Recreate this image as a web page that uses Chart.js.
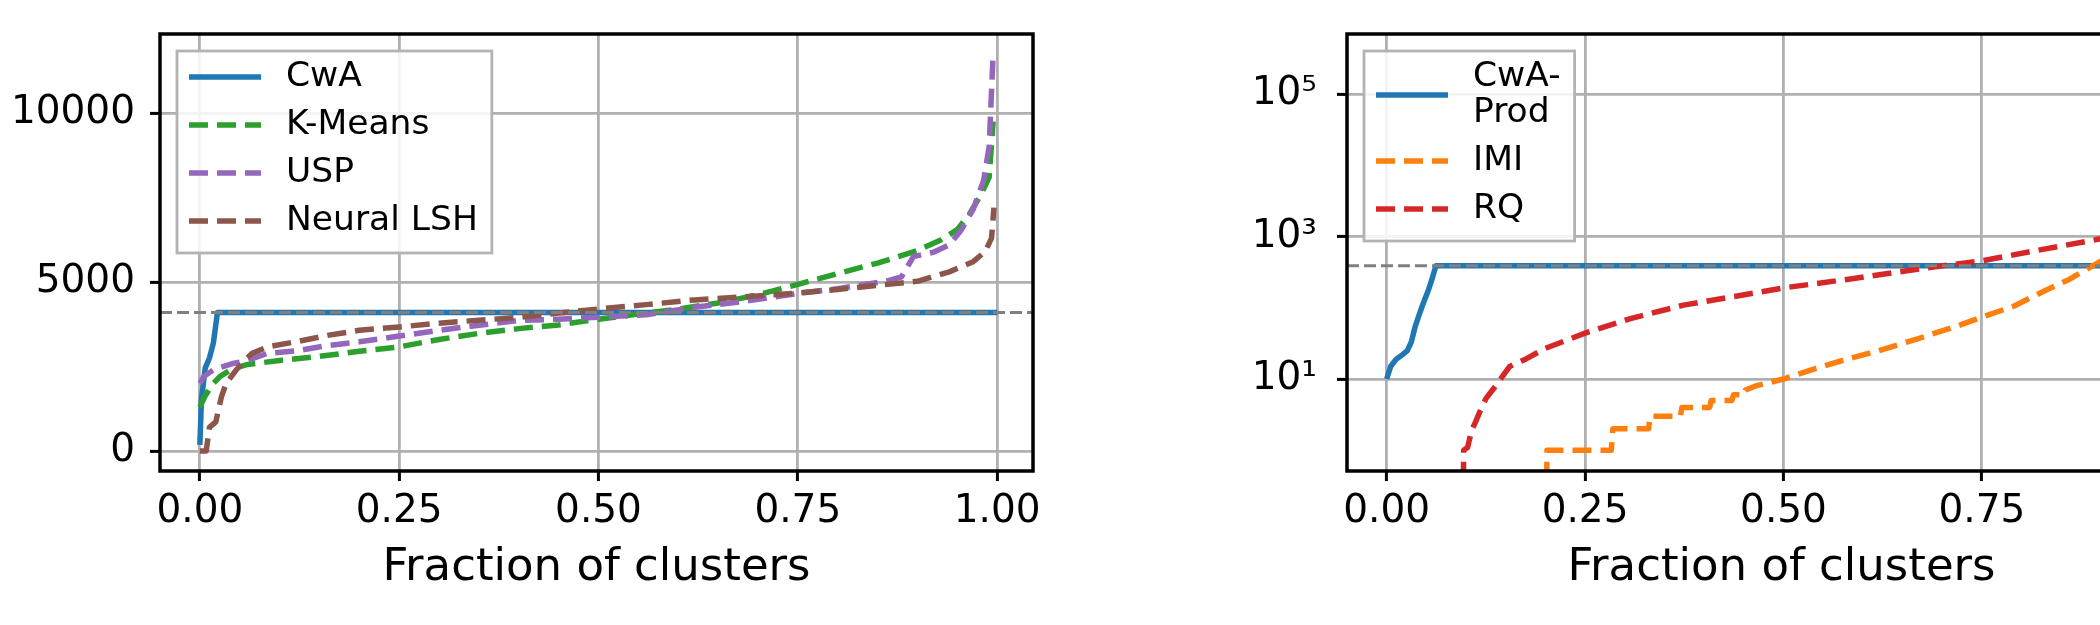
<!DOCTYPE html>
<html lang="en">
<head>
    <meta charset="utf-8">
    <title>Fraction of clusters</title>
    <style>
        html, body { margin: 0; padding: 0; background: #fff; overflow: hidden; }
        #wrap { position: relative; width: 2100px; height: 625px; overflow: hidden; }
        #leftChart { position: absolute; left: 0; top: 0; }
        #rightChart { position: absolute; left: 1200px; top: 0; }
    </style>
</head>
<body>
    <div id="wrap">
        <canvas id="leftChart" width="1100" height="625"></canvas>
        <canvas id="rightChart" width="1100" height="625"></canvas>
    </div>
    <script src="https://cdn.jsdelivr.net/npm/chart.js"></script>
    <script>
        // ---- left panel: cluster sizes, linear axis ----
        const cwaX = [0, 0.002, 0.0067, 0.012, 0.017, 0.022, 1.0]
        const cwaY = [180, 1530, 2450, 2750, 3200, 4096, 4096]
        const kmeansX = [0, 0.006, 0.015, 0.025, 0.04, 0.06, 0.1, 0.15, 0.2, 0.25, 0.3, 0.35, 0.4, 0.45, 0.5, 0.55, 0.6, 0.65, 0.7, 0.75, 0.8, 0.85, 0.9, 0.93, 0.95, 0.965, 0.98, 0.99, 0.995]
        const kmeansY = [1300, 1600, 1950, 2200, 2420, 2560, 2680, 2800, 2950, 3080, 3300, 3480, 3620, 3730, 3900, 4050, 4200, 4380, 4620, 4930, 5250, 5560, 5930, 6250, 6550, 7000, 7600, 8100, 9750]
        const uspX = [0, 0.005, 0.018, 0.04, 0.06, 0.085, 0.12, 0.16, 0.2, 0.25, 0.3, 0.35, 0.4, 0.45, 0.5, 0.56, 0.62, 0.68, 0.75, 0.8, 0.86, 0.88, 0.895, 0.92, 0.94, 0.955, 0.97, 0.983, 0.99, 0.995]
        const uspY = [2000, 2200, 2420, 2580, 2680, 2890, 2960, 3120, 3230, 3400, 3570, 3720, 3860, 3900, 3960, 4030, 4250, 4420, 4660, 4800, 5020, 5150, 5750, 5880, 6100, 6540, 7150, 8000, 9000, 11750]
        const nlshX = [0, 0.008, 0.012, 0.02, 0.027, 0.033, 0.045, 0.055, 0.065, 0.085, 0.12, 0.16, 0.2, 0.25, 0.3, 0.35, 0.4, 0.45, 0.5, 0.56, 0.62, 0.68, 0.75, 0.8, 0.85, 0.9, 0.94, 0.97, 0.985, 0.993, 0.996]
        const nlshY = [0, 0, 700, 860, 1600, 2000, 2380, 2650, 2880, 3080, 3230, 3420, 3570, 3670, 3780, 3870, 3950, 4080, 4200, 4330, 4470, 4560, 4670, 4780, 4900, 5020, 5300, 5600, 5900, 6300, 7200]
        const leftRef = 4096

        // ---- right panel: log axis ----
        const cwaProdX = [0, 0.005, 0.012, 0.02, 0.026, 0.031, 0.036, 0.041, 0.046, 0.052, 0.057, 0.062, 1.0]
        const cwaProdY = [10, 15, 19, 22, 25, 33, 55, 80, 115, 170, 250, 390, 390]
        const imiX = [0.2, 0.202, 0.283, 0.285, 0.33, 0.332, 0.37, 0.372, 0.407, 0.409, 0.435, 0.437, 0.45, 0.452, 0.465, 0.5, 0.54, 0.58, 0.62, 0.67, 0.72, 0.75, 0.79, 0.83, 0.86, 0.9, 0.95, 0.99, 1.0]
        const imiY = [0.01, 1, 1, 2, 2, 3, 3, 4, 4, 5, 5, 6, 6, 7, 8, 10, 14, 19, 25, 37, 56, 74, 105, 175, 250, 450, 1500, 8000, 360000]
        const rqX = [0.0955, 0.097, 0.102, 0.107, 0.112, 0.117, 0.125, 0.138, 0.155, 0.175, 0.2, 0.25, 0.306, 0.374, 0.44, 0.5, 0.58, 0.68, 0.75, 0.82, 0.9, 0.95, 1.0]
        const rqY = [0.01, 1, 1.1, 1.9, 2.5, 3.4, 5.3, 8.2, 15, 19, 27, 44, 70, 109, 145, 190, 250, 362, 455, 640, 930, 1400, 3000]
        const rightRef = 390

        // axes
        const xTicks = [0, 0.25, 0.5, 0.75, 1]
        const leftYTicks = [0, 5000, 10000]
        const rightYTicks = [10, 1000, 100000]
        const X_MIN = -0.05, X_MAX = 1.045

        const FONT = 'DejaVu Sans'
        const GRID = '#b0b0b0'
        const sup = { 1: '\u00b9', 3: '\u00b3', 5: '\u2075' }
        const pts = (xs, ys) => xs.map((x, i) => ({ x: x, y: ys[i] }))

        Chart.defaults.font.family = FONT
        Chart.defaults.color = '#000'

        function line(label, xs, ys, color, dashed, order) {
            return {
                label: label, data: pts(xs, ys), borderColor: color, borderWidth: 5.5,
                borderDash: dashed ? [19, 9] : [], borderJoinStyle: 'round',
                pointRadius: 0, pointHoverRadius: 0, fill: false, tension: 0, clip: 0, order: order
            }
        }
        function refLine(value) {
            return {
                data: [{ x: X_MIN, y: value }, { x: X_MAX, y: value }], borderColor: '#808080',
                borderWidth: 3, borderDash: [12, 5], pointRadius: 0, fill: false, clip: 0, order: 0
            }
        }

        // draws a matplotlib style legend inside the plot, upper left
        function drawLegend(chart) {
            const { ctx, chartArea: a } = chart
            const items = chart.data.datasets.filter(d => d.label)
            const lines = items.map(d => [].concat(d.label))
            ctx.save()
            ctx.font = '34.5px "' + FONT + '"'
            const textW = Math.max(...lines.flat().map(t => ctx.measureText(t).width))
            let h = 26
            const centers = []
            lines.forEach((ls, i) => {
                if (i > 0) h += 48
                centers.push(h)
                h += (ls.length - 1) * 36
            })
            h += 32
            const x0 = a.left + 17, y0 = a.top + 17, w = 109 + textW + 14
            ctx.fillStyle = 'rgba(255,255,255,0.85)'
            ctx.fillRect(x0, y0, w, h)
            ctx.strokeStyle = '#b3b3b3'
            ctx.lineWidth = 2.8
            ctx.strokeRect(x0, y0, w, h)
            items.forEach((d, i) => {
                const ls = lines[i]
                const cy = y0 + centers[i] + (ls.length - 1) * 36 / 2
                ctx.strokeStyle = d.borderColor
                ctx.lineWidth = d.borderWidth
                ctx.setLineDash(d.borderDash || [])
                ctx.beginPath()
                ctx.moveTo(x0 + 12, cy)
                ctx.lineTo(x0 + 84, cy)
                ctx.stroke()
                ctx.setLineDash([])
                ctx.fillStyle = '#000'
                ctx.textBaseline = 'middle'
                ctx.textAlign = 'left'
                ls.forEach((t, j) => ctx.fillText(t, x0 + 109, y0 + centers[i] + j * 36))
            })
            ctx.restore()
        }
        const frameLegend = {
            id: 'frameLegend',
            afterDatasetsDraw(chart) {
                const { ctx, chartArea: a } = chart
                ctx.save()
                ctx.strokeStyle = '#000'
                ctx.lineWidth = 3.5
                ctx.strokeRect(a.left, a.top, a.right - a.left, a.bottom - a.top)
                ctx.restore()
                drawLegend(chart)
            }
        }

        const gridOpts = { color: GRID, lineWidth: 2.8, tickColor: '#000', tickLength: 10, tickWidth: 3 }
        function xScale() {
            return {
                type: 'linear', min: X_MIN, max: X_MAX,
                afterBuildTicks: s => { s.ticks = xTicks.map(v => ({ value: v })) },
                afterFit: s => { s.height = 154 },
                ticks: { callback: v => v.toFixed(2), font: { size: 39 }, color: '#000', padding: 7, maxRotation: 0, autoSkip: false },
                grid: gridOpts,
                border: { display: false },
                title: { display: true, text: 'Fraction of clusters', font: { size: 45 }, color: '#000', padding: { top: 0, bottom: 30 } }
            }
        }
        // fixed axis width, and no extra top/bottom room for the labels
        const fixY = w => s => { s.width = w; s.paddingTop = 0; s.paddingBottom = 0 }

        new Chart(document.getElementById('leftChart'), {
            type: 'line',
            data: {
                datasets: [
                    refLine(leftRef),
                    line('CwA', cwaX, cwaY, '#1f77b4', false, 4),
                    line('K-Means', kmeansX, kmeansY, '#2ca02c', true, 3),
                    line('USP', uspX, uspY, '#9467bd', true, 2),
                    line('Neural LSH', nlshX, nlshY, '#8c564b', true, 1)
                ]
            },
            options: {
                responsive: false, animation: false, events: [],
                layout: { padding: { top: 34, right: 67, left: 0, bottom: 0 } },
                plugins: { legend: { display: false }, tooltip: { enabled: false } },
                scales: {
                    x: xScale(),
                    y: {
                        type: 'linear', min: -592, max: 12337,
                        afterBuildTicks: s => { s.ticks = leftYTicks.map(v => ({ value: v })) },
                        afterFit: fixY(160),
                        ticks: { callback: v => String(v), font: { size: 39 }, color: '#000', padding: 15 },
                        grid: gridOpts,
                        border: { display: false }
                    }
                }
            },
            plugins: [frameLegend]
        })

        new Chart(document.getElementById('rightChart'), {
            type: 'line',
            data: {
                datasets: [
                    refLine(rightRef),
                    line(['CwA-', 'Prod'], cwaProdX, cwaProdY, '#1f77b4', false, 3),
                    line('IMI', imiX, imiY, '#ff7f0e', true, 2),
                    line('RQ', rqX, rqY, '#d62728', true, 1)
                ]
            },
            options: {
                responsive: false, animation: false, events: [],
                layout: { padding: { top: 34, right: 84, left: 0, bottom: 0 } },
                plugins: { legend: { display: false }, tooltip: { enabled: false } },
                scales: {
                    x: xScale(),
                    y: {
                        type: 'logarithmic', min: 0.512, max: 695000,
                        afterBuildTicks: s => { s.ticks = rightYTicks.map(v => ({ value: v })) },
                        afterFit: fixY(147),
                        ticks: { callback: v => '10' + sup[Math.round(Math.log10(v))], font: { size: 39 }, color: '#000', padding: 20 },
                        grid: gridOpts,
                        border: { display: false }
                    }
                }
            },
            plugins: [frameLegend]
        })
    </script>
</body>
</html>
